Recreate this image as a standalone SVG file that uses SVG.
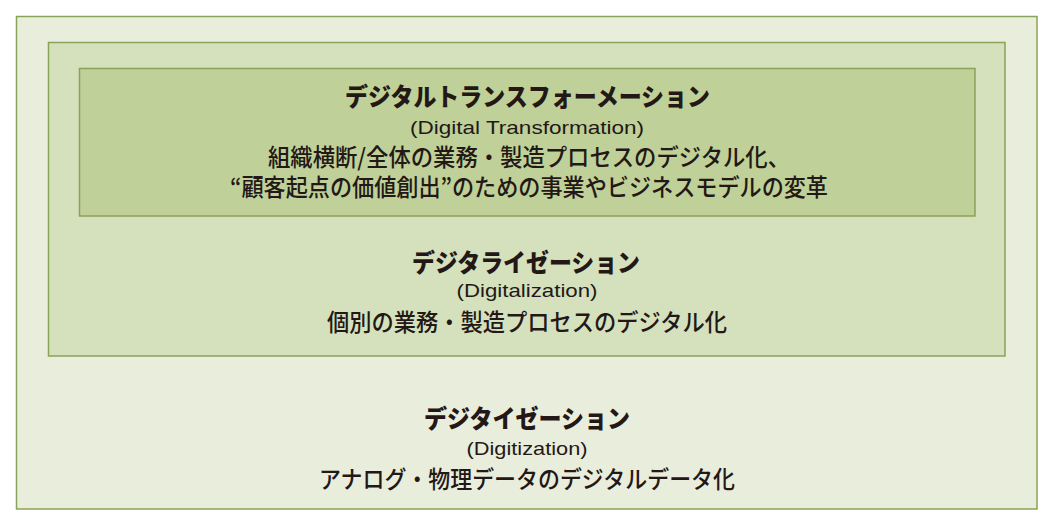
<svg xmlns="http://www.w3.org/2000/svg" width="1050" height="522" viewBox="0 0 1050 522">
<style>
.box{stroke:#8aa35a;stroke-width:1.5}
.t{font-family:"Noto Sans CJK JP","Noto Sans",sans-serif;fill:#231815;text-anchor:middle}
.h{font-size:25px;font-weight:900}
.b{font-size:24px;font-weight:500}
.s{font-family:"Liberation Sans","Noto Sans",sans-serif;font-size:19px;fill:#231815;text-anchor:middle}
</style>
<rect width="1050" height="522" fill="#ffffff"/>
<g id="digitization">
<rect class="box" x="16.5" y="16.5" width="1020.5" height="492.5" fill="#e9eddc"/>
<text class="t h" x="527" y="428" textLength="206" lengthAdjust="spacingAndGlyphs">デジタイゼーション</text>
<text class="s" x="527" y="455" textLength="121" lengthAdjust="spacingAndGlyphs">(Digitization)</text>
<text class="t b" x="527" y="488" textLength="416" lengthAdjust="spacingAndGlyphs">アナログ・物理データのデジタルデータ化</text>
</g>
<g id="digitalization">
<rect class="box" x="48.5" y="42.5" width="956.5" height="313.5" fill="#d5e0bd"/>
<text class="t h" x="526" y="272" textLength="228" lengthAdjust="spacingAndGlyphs">デジタライゼーション</text>
<text class="s" x="527" y="297" textLength="141" lengthAdjust="spacingAndGlyphs">(Digitalization)</text>
<text class="t b" x="527" y="331" textLength="400" lengthAdjust="spacingAndGlyphs">個別の業務・製造プロセスのデジタル化</text>
</g>
<g id="dx">
<rect class="box" x="79.5" y="68.5" width="895.5" height="147.5" fill="#bfd098"/>
<text class="t h" x="527.5" y="106" textLength="365" lengthAdjust="spacingAndGlyphs">デジタルトランスフォーメーション</text>
<text class="s" x="527" y="134" textLength="234" lengthAdjust="spacingAndGlyphs">(Digital Transformation)</text>
<text class="t b" x="529" y="166" textLength="522" lengthAdjust="spacingAndGlyphs">組織横断/全体の業務・製造プロセスのデジタル化、</text>
<text class="t b" x="529" y="196" textLength="598" lengthAdjust="spacingAndGlyphs">“顧客起点の価値創出”のための事業やビジネスモデルの変革</text>
</g>
<g id="connectors"/>
</svg>
